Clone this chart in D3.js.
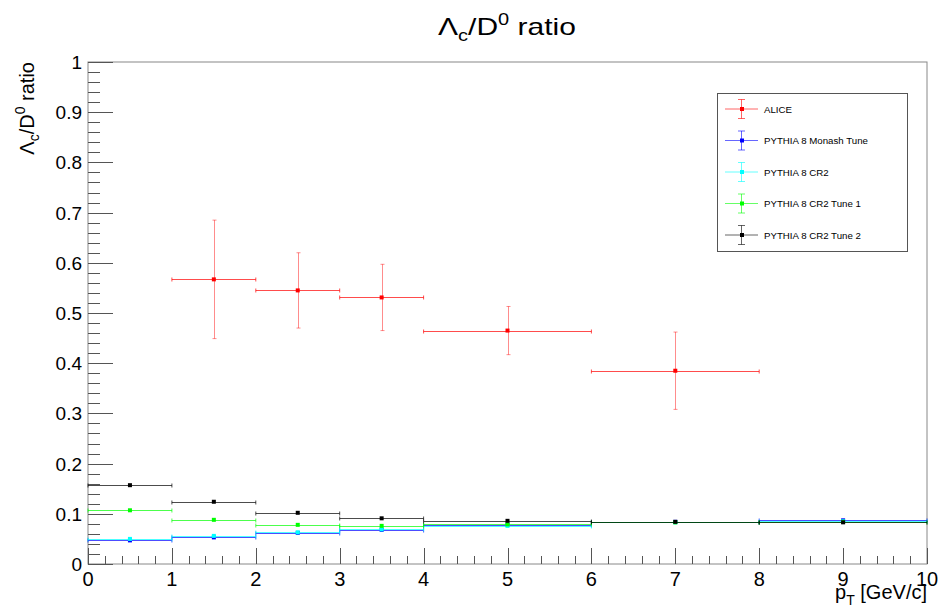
<!DOCTYPE html>
<html>
<head>
<meta charset="UTF-8">
<style>
  body { margin: 0; background: #fff; font-family: "Liberation Sans", Arial, sans-serif; }
  svg text { font-family: "Liberation Sans", Arial, sans-serif; }
</style>
</head>
<body>
<svg id="chart" width="941" height="615"></svg>
<script src="https://d3js.org/d3.v7.min.js"></script>
<script>
// ALICE measurement
const aliceLo  = [1, 2, 3, 4, 6];
const aliceHi  = [2, 3, 4, 6, 8];
const aliceX   = [1.5, 2.5, 3.5, 5, 7];
const aliceY   = [0.567, 0.545, 0.531, 0.465, 0.385];
const aliceErr = [0.118, 0.075, 0.066, 0.048, 0.077];

// PYTHIA bins
const pyLo = [0, 1, 2, 3, 4, 6, 8];
const pyHi = [1, 2, 3, 4, 6, 8, 10];
const pyX  = [0.5, 1.5, 2.5, 3.5, 5, 7, 9];
const monash = [0.047, 0.053, 0.062, 0.068, 0.078, 0.084, 0.087];
const cr2    = [0.050, 0.056, 0.063, 0.069, 0.076, 0.083, 0.085];
const tune1  = [0.107, 0.088, 0.078, 0.076, 0.079, 0.083, 0.084];
const tune2  = [0.157, 0.124, 0.102, 0.091, 0.086, 0.084, 0.083];

const legendNames = ["ALICE", "PYTHIA 8 Monash Tune", "PYTHIA 8 CR2", "PYTHIA 8 CR2 Tune 1", "PYTHIA 8 CR2 Tune 2"];
const colors = ["#ff0000", "#0000ff", "#00ffff", "#00ff00", "#000000"];

const xTicks = d3.range(0, 11, 1);
const yTicks = d3.range(0, 1.01, 0.1);

let svg = d3.select("#chart");
let pl = 88, pr = 927, pt = 62, pb = 564;

let x = d3.scaleLinear().domain([0, 10]).range([pl, pr]);
let y = d3.scaleLinear().domain([0, 1]).range([pb, pt]);

// frame
svg.append("rect")
  .attr("x", pl).attr("y", pt)
  .attr("width", pr - pl).attr("height", pb - pt)
  .attr("fill", "none").attr("stroke", "#888").attr("stroke-width", 1);

// y ticks
let yMinor = d3.range(0, 1.001, 0.02);
svg.append("g").selectAll("line").data(yMinor).enter().append("line")
  .attr("x1", pl).attr("x2", d => Math.abs(d * 10 - Math.round(d * 10)) < 1e-6 ? pl + 25 : pl + 12)
  .attr("y1", d => Math.round(y(d)) + 0.5).attr("y2", d => Math.round(y(d)) + 0.5)
  .attr("stroke", "#555").attr("stroke-width", 1);

svg.append("g").selectAll("text").data(yTicks).enter().append("text")
  .attr("x", 82).attr("y", d => y(d) + 7)
  .attr("text-anchor", "end").attr("font-size", 19)
  .text(d => d === 0 ? "0" : d3.format(".1f")(d).replace(/\.0$/, ""));

// x ticks
let xMinor = d3.range(0, 10.001, 0.2);
svg.append("g").selectAll("line").data(xMinor).enter().append("line")
  .attr("x1", d => Math.round(x(d)) + 0.5).attr("x2", d => Math.round(x(d)) + 0.5)
  .attr("y1", pb).attr("y2", d => Math.abs(d - Math.round(d)) < 1e-6 ? pb - 16 : pb - 8)
  .attr("stroke", "#555").attr("stroke-width", 1);

svg.append("g").selectAll("text").data(xTicks).enter().append("text")
  .attr("x", d => x(d)).attr("y", 586)
  .attr("text-anchor", "middle").attr("font-size", 20)
  .text(d => d);

// titles
let title = svg.append("text")
  .attr("transform", "translate(507,35) scale(1.25,1)")
  .attr("text-anchor", "middle").attr("font-size", 24);
title.append("tspan").text("Λ");
title.append("tspan").attr("font-size", 16).attr("dy", 6).text("c");
title.append("tspan").attr("dy", -6).text("/D");
title.append("tspan").attr("font-size", 16).attr("dy", -10).text("0");
title.append("tspan").attr("dy", 10).text(" ratio");

let ylab = svg.append("text")
  .attr("transform", "translate(34,62) rotate(-90)")
  .attr("text-anchor", "end").attr("font-size", 20);
ylab.append("tspan").text("Λ");
ylab.append("tspan").attr("font-size", 14).attr("dy", 5).text("c");
ylab.append("tspan").attr("dy", -5).text("/D");
ylab.append("tspan").attr("font-size", 14).attr("dy", -9).text("0");
ylab.append("tspan").attr("dy", 9).text(" ratio");

let xlab = svg.append("text").attr("x", 927).attr("y", 599)
  .attr("text-anchor", "end").attr("font-size", 20);
xlab.append("tspan").text("p");
xlab.append("tspan").attr("font-size", 14).attr("dy", 6).text("T");
xlab.append("tspan").attr("dy", -6).text(" [GeV/c]");

// draw one series with error bars
function drawSeries(xs, ys, lo, hi, errs, color) {
  let g = svg.append("g").attr("stroke", color).attr("stroke-opacity", 0.7);
  xs.forEach((xv, i) => {
    let cy = Math.round(y(ys[i])) + 0.5;
    g.append("line").attr("x1", x(lo[i])).attr("x2", x(hi[i]))
      .attr("y1", cy).attr("y2", cy);
    g.append("line").attr("x1", x(lo[i])).attr("x2", x(lo[i]))
      .attr("y1", cy - 2).attr("y2", cy + 2);
    g.append("line").attr("x1", x(hi[i])).attr("x2", x(hi[i]))
      .attr("y1", cy - 2).attr("y2", cy + 2);
    if (errs) {
      let cx = Math.round(x(xv)) + 0.5;
      g.append("line").attr("x1", cx).attr("x2", cx)
        .attr("y1", y(ys[i] + errs[i])).attr("y2", y(ys[i] - errs[i]))
        .attr("stroke-opacity", 0.45);
      [ys[i] + errs[i], ys[i] - errs[i]].forEach(v => {
        g.append("line").attr("x1", cx - 2).attr("x2", cx + 2)
          .attr("y1", y(v)).attr("y2", y(v)).attr("stroke-opacity", 0.45);
      });
    }
    svg.append("rect").attr("x", x(xv) - 2).attr("y", y(ys[i]) - 2)
      .attr("width", 4).attr("height", 4).attr("fill", color);
  });
}

drawSeries(aliceX, aliceY, aliceLo, aliceHi, aliceErr, colors[0]);
[monash, cr2, tune1, tune2].forEach((s, k) => drawSeries(pyX, s, pyLo, pyHi, null, colors[k + 1]));

// legend
let lg = svg.append("g");
lg.append("rect").attr("x", 717.5).attr("y", 93.5).attr("width", 190).attr("height", 158)
  .attr("fill", "#fff").attr("stroke", "#555").attr("stroke-width", 1);
legendNames.forEach((name, i) => {
  let ly = 109 + i * 31.5;
  let row = lg.append("g").attr("stroke", colors[i]).attr("stroke-opacity", 0.6);
  row.append("line").attr("x1", 725).attr("x2", 758).attr("y1", ly).attr("y2", ly);
  row.append("line").attr("x1", 741.5).attr("x2", 741.5).attr("y1", ly - 9.5).attr("y2", ly + 9.5);
  row.append("line").attr("x1", 738).attr("x2", 745).attr("y1", ly - 9.5).attr("y2", ly - 9.5);
  row.append("line").attr("x1", 738).attr("x2", 745).attr("y1", ly + 9.5).attr("y2", ly + 9.5);
  lg.append("rect").attr("x", 740).attr("y", ly - 2).attr("width", 4).attr("height", 4).attr("fill", colors[i]);
  lg.append("text").attr("x", 764).attr("y", ly + 3.5).attr("font-size", 9.7).attr("fill", "#000").text(name);
});
</script>
</body>
</html>
